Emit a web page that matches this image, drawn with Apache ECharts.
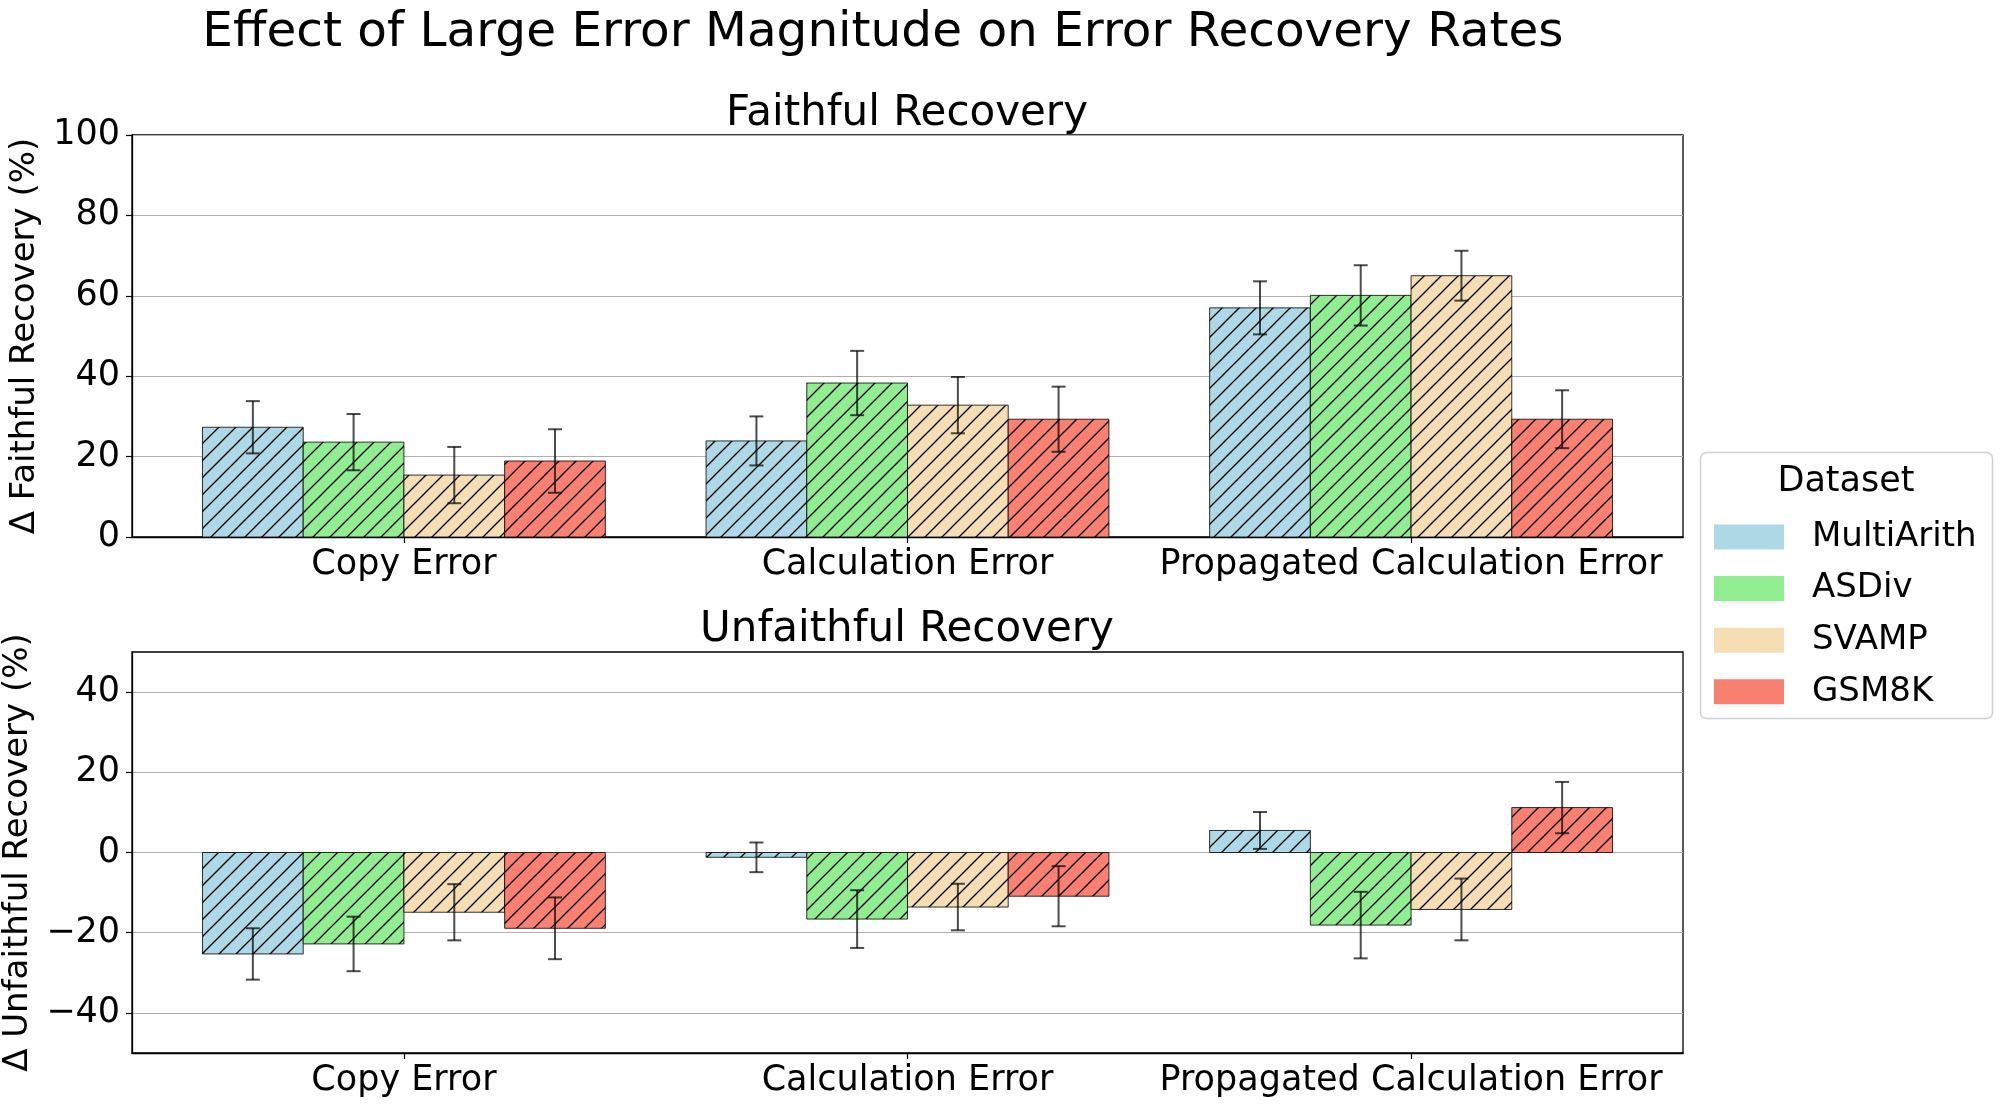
<!DOCTYPE html>
<html>
<head>
<meta charset="utf-8">
<script src="https://cdn.jsdelivr.net/npm/echarts@6/dist/echarts.min.js"></script>
<style>
html, body { margin: 0; padding: 0; background: #fff; }
#chart { width: 2003px; height: 1107px; }
</style>
</head>
<body>
<div id="chart"></div>
<script>
// data
var categories = ['Copy Error', 'Calculation Error', 'Propagated Calculation Error'];
var datasets = ['MultiArith', 'ASDiv', 'SVAMP', 'GSM8K'];
var colors = ['#add8e6', '#90ee90', '#f5deb3', '#fa8072'];

// faithful recovery delta (%) per dataset, one value per category
var faithful = {
    MultiArith: [27.3, 23.9, 57.0],
    ASDiv: [23.6, 38.3, 60.1],
    SVAMP: [15.4, 32.8, 65.0],
    GSM8K: [18.9, 29.3, 29.3]
};
var faithfulErr = {
    MultiArith: [6.5, 6.1, 6.6],
    ASDiv: [7.0, 8.0, 7.5],
    SVAMP: [7.0, 7.0, 6.2],
    GSM8K: [7.9, 8.1, 7.2]
};
// unfaithful recovery delta (%)
var unfaithful = {
    MultiArith: [-25.3, -1.2, 5.5],
    ASDiv: [-22.8, -16.6, -18.1],
    SVAMP: [-14.9, -13.6, -14.2],
    GSM8K: [-18.9, -10.9, 11.2]
};
var unfaithfulErr = {
    MultiArith: [6.4, 3.7, 4.6],
    ASDiv: [6.8, 7.2, 8.3],
    SVAMP: [7.0, 5.8, 7.7],
    GSM8K: [7.7, 7.5, 6.4]
};

var topTicks = [0, 20, 40, 60, 80, 100];
var bottomTicks = [-40, -20, 0, 20, 40];
var catTicks = [0, 1, 2];

var FONT = 'DejaVu Sans';
var barW = 0.2;

// hatch tile '//'
function makeHatch() {
    var s = 17;
    var c = document.createElement('canvas');
    c.width = s; c.height = s;
    var g = c.getContext('2d');
    g.strokeStyle = '#000';
    g.lineWidth = 1.3;
    for (var k = -1; k <= 1; k++) {
        g.beginPath();
        g.moveTo(k * s - 1, s + 1);
        g.lineTo(k * s + s + 1, -1);
        g.stroke();
    }
    return c;
}
var hatch = makeHatch();

function renderBar(params, api) {
    var cx = api.value(0) + api.value(3);
    var v = api.value(1);
    var e = api.value(2);
    var p0 = api.coord([cx - barW / 2, 0]);
    var p1 = api.coord([cx + barW / 2, v]);
    var x = p0[0], w = p1[0] - p0[0];
    var y = Math.min(p0[1], p1[1]), h = Math.abs(p1[1] - p0[1]);
    var c = api.coord([cx, v]);
    var eTop = api.coord([cx, v + e])[1];
    var eBot = api.coord([cx, v - e])[1];
    var cap = 7;
    var eStyle = { stroke: 'rgba(0,0,0,0.7)', lineWidth: 2 };
    return {
        type: 'group',
        children: [
            { type: 'rect', shape: { x: x, y: y, width: w, height: h }, style: { fill: api.visual('color'), stroke: '#000', lineWidth: 0.8 } },
            { type: 'rect', shape: { x: x, y: y, width: w, height: h }, style: { fill: { type: 'pattern', image: hatch, repeat: 'repeat' } }, silent: true },
            { type: 'line', shape: { x1: c[0], y1: eTop, x2: c[0], y2: eBot }, style: eStyle },
            { type: 'line', shape: { x1: c[0] - cap, y1: eTop, x2: c[0] + cap, y2: eTop }, style: eStyle },
            { type: 'line', shape: { x1: c[0] - cap, y1: eBot, x2: c[0] + cap, y2: eBot }, style: eStyle }
        ]
    };
}

function buildSeries(vals, errs, idx) {
    return datasets.map(function (name, i) {
        var off = -0.3 + i * 0.2;
        return {
            type: 'custom',
            name: name,
            xAxisIndex: idx,
            yAxisIndex: idx,
            itemStyle: { color: colors[i] },
            renderItem: renderBar,
            encode: { x: 0, y: 1 },
            data: categories.map(function (c, j) { return [j, vals[name][j], errs[name][j], off]; })
        };
    });
}

function xAxis(idx) {
    return {
        type: 'value', gridIndex: idx, min: -0.54, max: 2.54,
        axisLine: { show: true, onZero: false, lineStyle: { color: '#000', width: 1.3 } },
        axisTick: { show: true, customValues: catTicks, length: 6, lineStyle: { color: '#000', width: 1.2 } },
        axisLabel: {
            customValues: catTicks, margin: 10, color: '#000', fontFamily: FONT, fontSize: 35,
            formatter: function (v) { return categories[Math.round(v)]; }
        },
        splitLine: { show: false }
    };
}

function yAxis(idx, min, max, ticks, name) {
    return {
        type: 'value', gridIndex: idx, min: min, max: max,
        name: name, nameLocation: 'middle', nameRotate: 90, nameGap: 82,
        nameTextStyle: { fontFamily: FONT, fontSize: 34, color: '#000' },
        axisLine: { show: true, onZero: false, lineStyle: { color: '#000', width: 1.3 } },
        axisTick: { show: true, customValues: ticks, length: 6, lineStyle: { color: '#000', width: 1.2 } },
        axisLabel: {
            customValues: ticks, margin: 12, color: '#000', fontFamily: FONT, fontSize: 35,
            formatter: function (v) { return v < 0 ? '\u2212' + Math.abs(v) : String(v); }
        },
        splitLine: { show: true, lineStyle: { color: '#b0b0b0', width: 1.2 } }
    };
}

var chart = echarts.init(document.getElementById('chart'));
chart.setOption({
    animation: false,
    backgroundColor: '#fff',
    grid: [
        { left: 132, top: 135, width: 1551, height: 402, show: true, borderColor: '#000', borderWidth: 1.3, outerBoundsMode: 'none', containLabel: false },
        { left: 132, top: 652, width: 1551, height: 401, show: true, borderColor: '#000', borderWidth: 1.3, outerBoundsMode: 'none', containLabel: false }
    ],
    xAxis: [xAxis(0), xAxis(1)],
    yAxis: [
        yAxis(0, 0, 100, topTicks, '\u0394 Faithful Recovery (%)'),
        yAxis(1, -50, 50, bottomTicks, '\u0394 Unfaithful Recovery (%)')
    ],
    legend: {
        data: datasets, orient: 'vertical', left: 1714, top: 520, padding: 0,
        itemWidth: 70, itemHeight: 25, itemGap: 17.6, icon: 'rect', z: 10,
        textStyle: { fontFamily: FONT, fontSize: 34, color: '#000', padding: [0, 0, 0, 23] },
        selectedMode: false
    },
    graphic: [
        { type: 'text', x: 883, y: 33, style: { text: 'Effect of Large Error Magnitude on Error Recovery Rates', font: '48.5px "DejaVu Sans"', fill: '#000', align: 'center', verticalAlign: 'middle' } },
        { type: 'text', x: 907, y: 114, style: { text: 'Faithful Recovery', font: '42px "DejaVu Sans"', fill: '#000', align: 'center', verticalAlign: 'middle' } },
        { type: 'text', x: 907, y: 630, style: { text: 'Unfaithful Recovery', font: '42px "DejaVu Sans"', fill: '#000', align: 'center', verticalAlign: 'middle' } },
        { type: 'rect', z: 0, shape: { x: 1700.5, y: 452.5, width: 292, height: 266, r: 6 }, style: { fill: '#fff', stroke: '#d0d0d0', lineWidth: 1.5 } },
        { type: 'text', z: 1, x: 1846, y: 482, style: { text: 'Dataset', font: '35px "DejaVu Sans"', fill: '#000', align: 'center', verticalAlign: 'middle' } }
    ],
    series: buildSeries(faithful, faithfulErr, 0).concat(buildSeries(unfaithful, unfaithfulErr, 1))
});
</script>
</body>
</html>
